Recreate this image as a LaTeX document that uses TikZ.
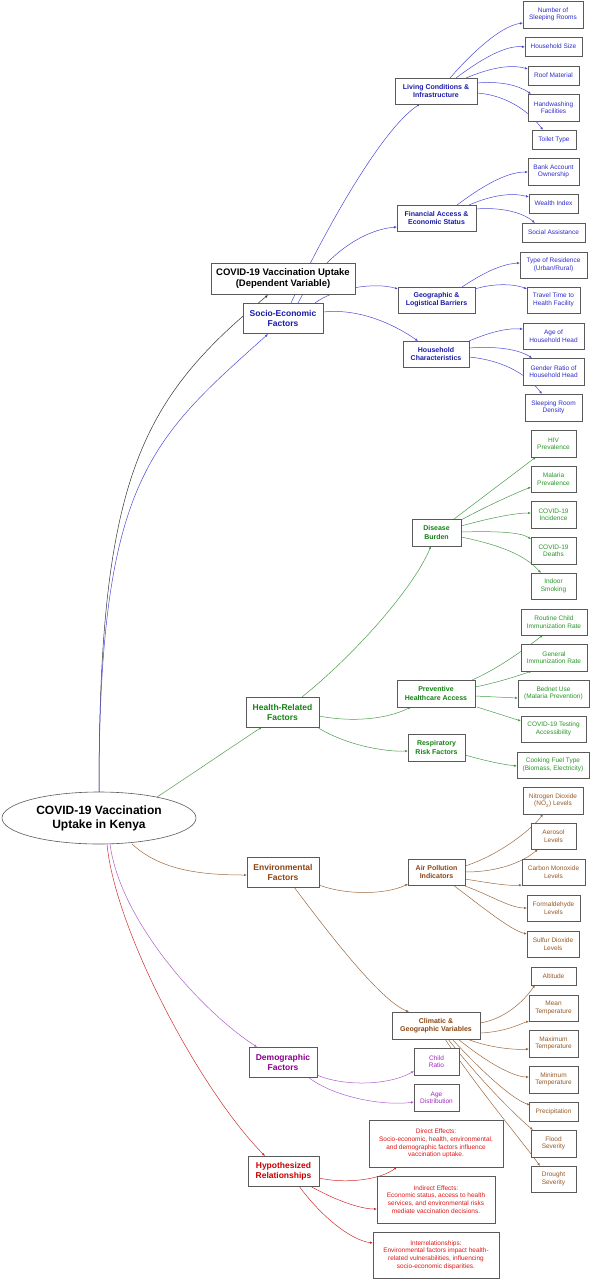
\documentclass[tikz,border=0pt]{standalone}
\usepackage{fontspec}
\setmainfont{Liberation Sans}
\usetikzlibrary{arrows.meta,shapes.geometric}
\pgfdeclarelayer{bg}
\pgfsetlayers{bg,main}
\definecolor{bord}{RGB}{90,90,90}
\definecolor{seT}{RGB}{26,26,170}
\definecolor{seL}{RGB}{45,45,205}
\definecolor{seE}{RGB}{75,75,215}
\definecolor{hgT}{RGB}{20,130,20}
\definecolor{hgL}{RGB}{40,150,40}
\definecolor{hgE}{RGB}{75,155,75}
\definecolor{ebT}{RGB}{139,69,19}
\definecolor{ebL}{RGB}{150,90,40}
\definecolor{ebE}{RGB}{155,105,65}
\definecolor{dpT}{RGB}{139,0,139}
\definecolor{dpL}{RGB}{160,40,190}
\definecolor{dpE}{RGB}{175,95,205}
\definecolor{hrT}{RGB}{200,0,0}
\definecolor{hrL}{RGB}{220,25,25}
\definecolor{hrE}{RGB}{210,45,45}
\tikzset{
  box/.style={draw=bord, fill=white, line width=0.6pt, inner sep=0pt, align=center},
  wh/.style 2 args={minimum width=#1pt, minimum height=#2pt},
  leaf/.style={box, font=\fontsize{6.5}{7.4}\selectfont},
  sub/.style={box, font=\fontsize{7}{8.3}\selectfont\bfseries},
  cat/.style={box, font=\fontsize{8.5}{10}\selectfont\bfseries},
  edge/.style={line width=0.5pt, -{Latex[length=3pt,width=2.4pt]}},
  blkE/.style={edge, draw=black!80},
  seEdge/.style={edge, draw=seE},
  hgEdge/.style={edge, draw=hgE},
  ebEdge/.style={edge, draw=ebE},
  dpEdge/.style={edge, draw=dpE},
  hrEdge/.style={edge, draw=hrE},
}
\begin{document}
\begin{tikzpicture}[x=1pt,y=-1pt]
\useasboundingbox (0,0) rectangle (592,1280);
% ---------- nodes ----------
\node[ellipse, draw=bord, fill=white, line width=0.6pt, inner sep=0pt, align=center, minimum width=194pt, minimum height=52pt, font=\fontsize{12}{14}\selectfont\bfseries] (root) at (99,818) {COVID-19 Vaccination\\Uptake in Kenya};
\node[box, wh={144}{31}, font=\fontsize{9.5}{11}\selectfont\bfseries] (depvar) at (283,278.5) {COVID-19 Vaccination Uptake\\(Dependent Variable)};
% socio-economic
\node[cat, wh={80}{30}, text=seT] (socio) at (283,318) {Socio-Economic\\Factors};
\node[sub, wh={82}{26}, text=seT] (living) at (436,91) {Living Conditions \&\\Infrastructure};
\node[sub, wh={79}{26}, text=seT] (financial) at (436.5,218) {Financial Access \&\\Economic Status};
\node[sub, wh={77}{26}, text=seT] (geographic) at (436.5,300) {Geographic \&\\Logistical Barriers};
\node[sub, wh={66}{26}, text=seT] (household) at (436,354) {Household\\Characteristics};
\node[leaf, wh={60}{27}, text=seL] (nsr) at (553,14.5) {Number of\\Sleeping Rooms};
\node[leaf, wh={57}{19}, text=seL] (hsize) at (553.5,46.5) {Household Size};
\node[leaf, wh={51}{19}, text=seL] (roof) at (553.5,75.5) {Roof Material};
\node[leaf, wh={51}{27}, text=seL] (hand) at (553.5,107.5) {Handwashing\\Facilities};
\node[leaf, wh={44}{19}, text=seL] (toilet) at (554,139.5) {Toilet Type};
\node[leaf, wh={51}{27}, text=seL] (bank) at (553.5,171.5) {Bank Account\\Ownership};
\node[leaf, wh={49}{19}, text=seL] (wealth) at (553.5,203.5) {Wealth Index};
\node[leaf, wh={63}{19}, text=seL] (social) at (553.5,232.5) {Social Assistance};
\node[leaf, wh={67}{26}, text=seL] (residence) at (553.5,265) {Type of Residence\\(Urban/Rural)};
\node[leaf, wh={53}{26}, text=seL] (travel) at (553.5,300) {Travel Time to\\Health Facility};
\node[leaf, wh={61}{26}, text=seL] (agehh) at (553.5,336) {Age of\\Household Head};
\node[leaf, wh={61}{27}, text=seL] (gender) at (553.5,371.5) {Gender Ratio of\\Household Head};
\node[leaf, wh={57}{27}, text=seL] (density) at (553.5,407.5) {Sleeping Room\\Density};
% health
\node[cat, wh={73}{30}, text=hgT] (health) at (282.5,712) {Health-Related\\Factors};
\node[sub, wh={49}{27}, text=hgT] (disease) at (436.5,532.5) {Disease\\Burden};
\node[sub, wh={78}{27}, text=hgT] (preventive) at (436,693.5) {Preventive\\Healthcare Access};
\node[sub, wh={57}{27}, text=hgT] (respiratory) at (436.5,747.5) {Respiratory\\Risk Factors};
\node[leaf, wh={45}{27}, text=hgL] (hiv) at (553.5,443.5) {HIV\\Prevalence};
\node[leaf, wh={45}{26}, text=hgL] (malaria) at (553.5,479) {Malaria\\Prevalence};
\node[leaf, wh={45}{27}, text=hgL] (incidence) at (553.5,514.5) {COVID-19\\Incidence};
\node[leaf, wh={45}{27}, text=hgL] (deaths) at (553.5,550.5) {COVID-19\\Deaths};
\node[leaf, wh={45}{26}, text=hgL] (smoking) at (553.5,586) {Indoor\\Smoking};
\node[leaf, wh={66}{26}, text=hgL] (routine) at (554,622) {Routine Child\\Immunization Rate};
\node[leaf, wh={66}{27}, text=hgL] (general) at (554,657.5) {General\\Immunization Rate};
\node[leaf, wh={71}{27}, text=hgL] (bednet) at (553.5,693.5) {Bednet Use\\(Malaria Prevention)};
\node[leaf, wh={65}{26}, text=hgL] (testing) at (553.5,729) {COVID-19 Testing\\Accessibility};
\node[leaf, wh={72}{26}, text=hgL] (cooking) at (553,765) {Cooking Fuel Type\\(Biomass, Electricity)};
% environmental
\node[cat, wh={72}{30}, text=ebT] (env) at (283,872) {Environmental\\Factors};
\node[sub, wh={57}{26}, text=ebT] (air) at (436.5,872) {Air Pollution\\Indicators};
\node[sub, wh={88}{27}, text=ebT] (climatic) at (436,1025.5) {Climatic \&\\Geographic Variables};
\node[leaf, wh={60}{27}, text=ebL] (no2) at (553,800.5) {Nitrogen Dioxide\\(NO\textsubscript{2}) Levels};
\node[leaf, wh={45}{26}, text=ebL] (aerosol) at (553.5,836) {Aerosol\\Levels};
\node[leaf, wh={63}{26}, text=ebL] (co) at (553.5,872) {Carbon Monoxide\\Levels};
\node[leaf, wh={53}{26}, text=ebL] (formald) at (553.5,908) {Formaldehyde\\Levels};
\node[leaf, wh={52}{26}, text=ebL] (sulfur) at (553,944) {Sulfur Dioxide\\Levels};
\node[leaf, wh={45}{18}, text=ebL] (altitude) at (553.5,976) {Altitude};
\node[leaf, wh={49}{26}, text=ebL] (mean) at (553.5,1008) {Mean\\Temperature};
\node[leaf, wh={49}{27}, text=ebL] (maxt) at (553.5,1043.5) {Maximum\\Temperature};
\node[leaf, wh={49}{27}, text=ebL] (mint) at (553.5,1079.5) {Minimum\\Temperature};
\node[leaf, wh={49}{19}, text=ebL] (precip) at (553.5,1111.5) {Precipitation};
\node[leaf, wh={45}{27}, text=ebL] (flood) at (553.5,1143.5) {Flood\\Severity};
\node[leaf, wh={45}{26}, text=ebL] (drought) at (553.5,1179) {Drought\\Severity};
% demographic
\node[cat, wh={68}{30}, text=dpT] (demo) at (283,1062) {Demographic\\Factors};
\node[leaf, wh={45}{27}, text=dpL] (child) at (436.5,1061.5) {Child\\Ratio};
\node[leaf, wh={45}{27}, text=dpL] (agedist) at (436.5,1097.5) {Age\\Distribution};
% hypothesized
\node[cat, wh={71}{30}, text=hrT] (hypo) at (283.5,1171) {Hypothesized\\Relationships};
\node[leaf, wh={134}{47}, text=hrL, font=\fontsize{6.5}{7.7}\selectfont] (direct) at (436,1143.5) {Direct Effects:\\Socio-economic, health, environmental,\\and demographic factors influence\\vaccination uptake.};
\node[leaf, wh={118}{47}, text=hrL, font=\fontsize{6.5}{7.7}\selectfont] (indirect) at (436,1199.5) {Indirect Effects:\\Economic status, access to health\\services, and environmental risks\\mediate vaccination decisions.};
\node[leaf, wh={126}{46}, text=hrL, font=\fontsize{6.5}{7.7}\selectfont] (inter) at (436,1255) {Interrelationships:\\Environmental factors impact health-\\related vulnerabilities, influencing\\socio-economic disparities.};
% ---------- edges (behind nodes) ----------
\begin{pgfonlayer}{bg}
% root
\draw[blkE] ([shift={(0,-26)}]root.center) .. controls +(0,-312) and +(-128,105) .. ([shift={(-15,16.5)}]depvar.center);
\draw[seEdge] ([shift={(0,-26)}]root.center) .. controls +(0,-312) and +(-118,106) .. ([shift={(-15,16)}]socio.center);
\draw[hgEdge] ([shift={(58,-21)}]root.center) .. controls +(35,-23) and +(-35,23) .. ([shift={(-20.5,15)}]health.center);
\draw[ebEdge] ([shift={(33,26)}]root.center) .. controls +(28,26) and +(-47,0) .. ([shift={(-36,3)}]env.center);
\draw[dpEdge] ([shift={(11,26)}]root.center) .. controls +(10,76) and +(-57,-37) .. ([shift={(-26,-15)}]demo.center);
\draw[hrEdge] ([shift={(8,26)}]root.center) .. controls +(8,86) and +(-65,-66) .. ([shift={(-18.5,-15)}]hypo.center);
% socio
\draw[seEdge] ([shift={(8,-15)}]socio.center) .. controls +(29,-63) and +(-40,26) .. ([shift={(-16,13)}]living.center);
\draw[seEdge] ([shift={(15,-15)}]socio.center) .. controls +(22,-43) and +(-37,3) .. ([shift={(-39.5,9)}]financial.center);
\draw[seEdge] ([shift={(32,-15)}]socio.center) .. controls +(20,-15) and +(-23,-7) .. ([shift={(-38.5,-11)}]geographic.center);
\draw[seEdge] ([shift={(40,-6)}]socio.center) .. controls +(37,-4) and +(-23,-16) .. ([shift={(-18,-13)}]household.center);
\draw[seEdge] ([shift={(14,-13)}]living.center) .. controls +(20,-23) and +(-23,3) .. ([shift={(-30,8.5)}]nsr.center);
\draw[seEdge] ([shift={(20,-13)}]living.center) .. controls +(24,-18) and +(-20,-2) .. ([shift={(-28.5,0.5)}]hsize.center);
\draw[seEdge] ([shift={(30,-13)}]living.center) .. controls +(24,-10) and +(-18,-5) .. ([shift={(-25.5,-6.5)}]roof.center);
\draw[seEdge] ([shift={(41,-8)}]living.center) .. controls +(23,-2) and +(-13,-9) .. ([shift={(-22.5,-13.5)}]hand.center);
\draw[seEdge] ([shift={(41,2)}]living.center) .. controls +(28,2) and +(-15,-20) .. ([shift={(-11,-9.5)}]toilet.center);
\draw[seEdge] ([shift={(20.5,-13)}]financial.center) .. controls +(23,-17) and +(-23,0) .. ([shift={(-25.5,0.5)}]bank.center);
\draw[seEdge] ([shift={(32.5,-13)}]financial.center) .. controls +(21,-9) and +(-19,-5) .. ([shift={(-24.5,-6.5)}]wealth.center);
\draw[seEdge] ([shift={(39.5,-9)}]financial.center) .. controls +(24,-2) and +(-13,-11) .. ([shift={(-18.5,-9.5)}]social.center);
\draw[seEdge] ([shift={(25.5,-13)}]geographic.center) .. controls +(18,-12) and +(-20,1) .. ([shift={(-33.5,-2)}]residence.center);
\draw[seEdge] ([shift={(38.5,-11)}]geographic.center) .. controls +(15,-5) and +(-15,-6) .. ([shift={(-26.5,-11)}]travel.center);
\draw[seEdge] ([shift={(33,-13)}]household.center) .. controls +(19,-8) and +(-18,-1) .. ([shift={(-30.5,-7)}]agehh.center);
\draw[seEdge] ([shift={(33,-6)}]household.center) .. controls +(26,-2) and +(-14,-9) .. ([shift={(-21.5,-13.5)}]gender.center);
\draw[seEdge] ([shift={(33,3)}]household.center) .. controls +(31,3) and +(-17,-22) .. ([shift={(-11.5,-13.5)}]density.center);
% health
\draw[hgEdge] ([shift={(19.5,-15)}]health.center) .. controls +(58,-47) and +(-16,39) .. ([shift={(-5.5,13.5)}]disease.center);
\draw[hgEdge] ([shift={(36.5,4)}]health.center) .. controls +(31,6) and +(-26,13) .. ([shift={(-25,13.5)}]preventive.center);
\draw[hgEdge] ([shift={(34.5,15)}]health.center) .. controls +(28,18) and +(-23,1) .. ([shift={(-28.5,3.5)}]respiratory.center);
\draw[hgEdge] ([shift={(17.5,-13.5)}]disease.center) -- ([shift={(-17.5,13.5)}]hiv.center);
\draw[hgEdge] ([shift={(24.5,-12.5)}]disease.center) .. controls +(22,-12) and +(-20,8) .. ([shift={(-22.5,8)}]malaria.center);
\draw[hgEdge] ([shift={(24.5,-6.5)}]disease.center) .. controls +(29,-8) and +(-16,0) .. ([shift={(-22.5,-1.5)}]incidence.center);
\draw[hgEdge] ([shift={(24.5,-0.5)}]disease.center) .. controls +(34,-1) and +(-11,-7) .. ([shift={(-22.5,-11.5)}]deaths.center);
\draw[hgEdge] ([shift={(24.5,4.5)}]disease.center) .. controls +(39,8) and +(-16,-18) .. ([shift={(-12.5,-13)}]smoking.center);
\draw[hgEdge] ([shift={(36,-13.5)}]preventive.center) .. controls +(28,-12) and +(-13,10) .. ([shift={(-11,13)}]routine.center);
\draw[hgEdge] ([shift={(39,-6.5)}]preventive.center) .. controls +(25,-5) and +(-12,4) .. ([shift={(-22,13.5)}]general.center);
\draw[hgEdge] ([shift={(39,2.5)}]preventive.center) -- ([shift={(-35.5,4.5)}]bednet.center);
\draw[hgEdge] ([shift={(41,13.5)}]preventive.center) -- ([shift={(-32.5,-8)}]testing.center);
\draw[hgEdge] ([shift={(28.5,7.5)}]respiratory.center) .. controls +(18,5) and +(-18,-2) .. ([shift={(-36,1)}]cooking.center);
% environmental
\draw[ebEdge] ([shift={(36,13)}]env.center) .. controls +(26,10) and +(-23,11) .. ([shift={(-28.5,12)}]air.center);
\draw[ebEdge] ([shift={(11,15)}]env.center) .. controls +(36,48) and +(-29,-12) .. ([shift={(-27,-13.5)}]climatic.center);
\draw[ebEdge] ([shift={(28.5,-6)}]air.center) .. controls +(35,-11) and +(-10,14) .. ([shift={(-10,13.5)}]no2.center);
\draw[ebEdge] ([shift={(28.5,0)}]air.center) .. controls +(40,0) and +(-10,9) .. ([shift={(-15.5,13)}]aerosol.center);
\draw[ebEdge] ([shift={(28.5,7)}]air.center) .. controls +(30,5) and +(-12,1) .. ([shift={(-31.5,13)}]co.center);
\draw[ebEdge] ([shift={(28.5,14)}]air.center) .. controls +(25,9) and +(-17,0) .. ([shift={(-26.5,0)}]formald.center);
\draw[ebEdge] ([shift={(16.5,13)}]air.center) .. controls +(27,20) and +(-17,-4) .. ([shift={(-26,-10)}]sulfur.center);
\draw[ebEdge] ([shift={(44,-2.5)}]climatic.center) .. controls +(30,-5) and +(-7,10) .. ([shift={(-18.5,9)}]altitude.center);
\draw[ebEdge] ([shift={(44,7.5)}]climatic.center) .. controls +(25,-1) and +(-9,3) .. ([shift={(-24.5,13)}]mean.center);
\draw[ebEdge] ([shift={(31,13.5)}]climatic.center) .. controls +(23,9) and +(-14,1) .. ([shift={(-24.5,5.5)}]maxt.center);
\draw[ebEdge] ([shift={(22,13.5)}]climatic.center) .. controls +(32,26) and +(-14,0) .. ([shift={(-24.5,-2.5)}]mint.center);
\draw[ebEdge] ([shift={(16,13.5)}]climatic.center) .. controls +(38,41) and +(-15,-5) .. ([shift={(-23.5,-6.5)}]precip.center);
\draw[ebEdge] ([shift={(12,13.5)}]climatic.center) .. controls +(32,41) and +(-18,-15) .. ([shift={(-20.5,-13.5)}]flood.center);
\draw[ebEdge] ([shift={(9,13.5)}]climatic.center) .. controls +(30,46) and +(-15,-21) .. ([shift={(-13.5,-13)}]drought.center);
% demographic
\draw[dpEdge] ([shift={(34,13)}]demo.center) .. controls +(28,12) and +(-24,14) .. ([shift={(-22.5,9.5)}]child.center);
\draw[dpEdge] ([shift={(25,15)}]demo.center) .. controls +(27,21) and +(-29,4) .. ([shift={(-22.5,4.5)}]agedist.center);
% hypothesized
\draw[hrEdge] ([shift={(35.5,7)}]hypo.center) .. controls +(26,6) and +(-17,13) .. ([shift={(-39,23.5)}]direct.center);
\draw[hrEdge] ([shift={(26.5,15)}]hypo.center) .. controls +(25,14) and +(-17,0) .. ([shift={(-59,9.5)}]indirect.center);
\draw[hrEdge] ([shift={(15.5,15)}]hypo.center) .. controls +(21,29) and +(-23,-3) .. ([shift={(-63,-12)}]inter.center);
\end{pgfonlayer}
\end{tikzpicture}
\end{document}
